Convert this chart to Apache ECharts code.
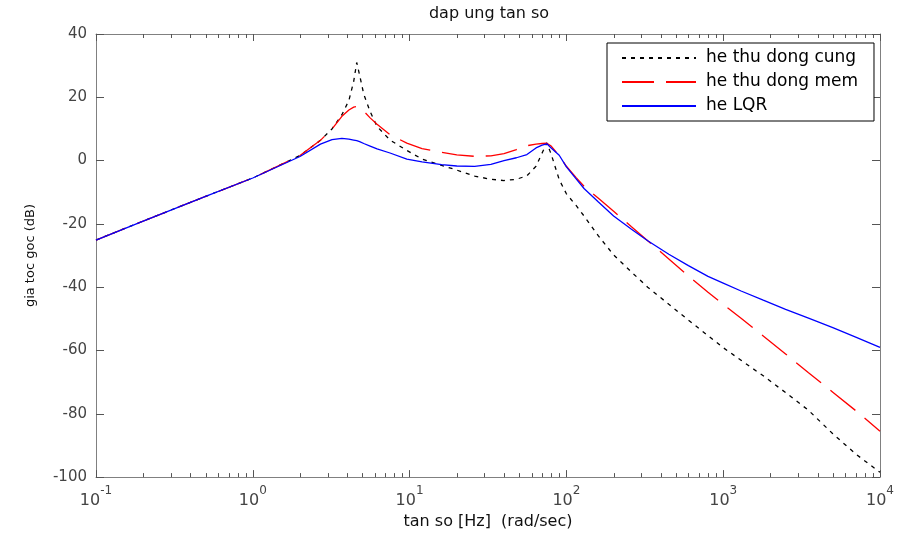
<!DOCTYPE html>
<html>
<head>
<meta charset="utf-8">
<script src="https://cdn.jsdelivr.net/npm/echarts@6/dist/echarts.min.js"></script>
<style>
html,body{margin:0;padding:0;background:#fff;}
#chart{width:897px;height:535px;}
</style>
</head>
<body>
<div id="chart"></div>
<script>
// Frequencies (rad/sec)
var freq = [0.1, 0.2, 0.5, 1, 2, 2.7, 3.2, 3.7, 4.1, 4.4, 4.6, 4.8, 5.1, 5.6, 6.2, 7.5, 9.6, 12, 16, 20, 26, 33, 40, 48, 56, 64, 70, 75, 80, 90, 100, 115, 130, 160, 200, 260, 330, 450, 600, 800, 1000, 1300, 1800, 2500, 3500, 5000, 7000, 10000];
// he thu dong cung (dB)
var cungDb = [-25.1, -19.1, -11.3, -5.5, 1.6, 6.4, 10.0, 14.5, 19.0, 25.0, 31.0, 27.0, 21.0, 15.5, 10.8, 6.5, 3.2, 0.5, -1.5, -3.0, -4.9, -5.9, -6.3, -5.9, -4.8, -1.8, 2.4, 5.6, 2.0, -6.0, -10.5, -14.1, -17.6, -23.8, -29.8, -35.2, -40.0, -45.4, -50.4, -55.3, -59.1, -63.1, -68.0, -73.3, -78.9, -86.3, -92.7, -98.5];
// he thu dong mem (dB)
var memDb = [-25.1, -19.1, -11.3, -5.5, 1.6, 6.4, 10.0, 14.0, 16.0, 16.9, 17.1, 16.8, 15.6, 13.5, 11.5, 8.2, 5.5, 3.8, 2.6, 1.8, 1.35, 1.5, 2.2, 3.5, 4.7, 5.2, 5.4, 5.5, 4.6, 1.5, -1.8, -5.3, -8.2, -11.9, -16.0, -20.9, -25.3, -31.1, -36.5, -41.6, -45.4, -49.8, -55.4, -61.1, -67.0, -73.2, -79.0, -85.5];
// he LQR (dB)
var lqrDb = [-25.1, -19.1, -11.3, -5.5, 1.3, 5.2, 6.6, 7.0, 6.8, 6.5, 6.3, 6.0, 5.4, 4.6, 3.7, 2.4, 0.5, -0.4, -1.3, -1.7, -1.8, -1.2, 0.0, 0.9, 1.9, 4.0, 4.9, 5.3, 4.0, 1.7, -2.0, -5.7, -8.9, -13.1, -17.5, -21.7, -25.3, -29.6, -33.2, -36.6, -38.7, -41.2, -44.1, -47.0, -49.8, -52.8, -55.8, -59.0];

var seriesNames = ['he thu dong cung', 'he thu dong mem', 'he LQR'];
var yTicks = [-100, -80, -60, -40, -20, 0, 20, 40];
var xDecades = [0.1, 1, 10, 100, 1000, 10000];

var minorTicks = [];
for (var d = 0; d < xDecades.length - 1; d++) {
  for (var m = 2; m <= 9; m++) minorTicks.push([xDecades[d] * m, -100]);
}

function pairs(xs, ys) { return xs.map(function (x, i) { return [x, ys[i]]; }); }

var FONT = 'DejaVu Sans';
var AX = '#808080';

var chart = echarts.init(document.getElementById('chart'), null, {renderer: 'canvas'});
chart.setOption({
  animation: false,
  backgroundColor: '#fff',
  title: {
    text: 'dap ung tan so',
    left: 489, top: 6, textAlign: 'center', padding: 0,
    textStyle: {fontFamily: FONT, fontSize: 16, fontWeight: 'normal', color: '#111'}
  },
  grid: {left: 96, right: 15, top: 34, bottom: 56, containLabel: false},
  legend: {
    data: seriesNames,
    orient: 'vertical',
    left: 607, top: 43,
    padding: [6, 16, 6, 14],
    itemWidth: 74, itemHeight: 14, itemGap: 6,
    backgroundColor: '#fff',
    borderColor: '#000', borderWidth: 1,
    itemStyle: {opacity: 0},
    textStyle: {fontFamily: FONT, fontSize: 17, color: '#000', padding: [0, 0, 0, 5], lineHeight: 18}
  },
  xAxis: [{
    type: 'log', logBase: 10, min: xDecades[0], max: xDecades[xDecades.length - 1],
    position: 'bottom',
    name: 'tan so [Hz]  (rad/sec)', nameLocation: 'middle', nameGap: 36,
    nameTextStyle: {fontFamily: FONT, fontSize: 16, color: '#111'},
    axisLine: {onZero: false, lineStyle: {color: AX, width: 1}},
    axisTick: {inside: true, length: 7, lineStyle: {color: '#555'}},
    splitLine: {show: false},
    axisLabel: {
      margin: 8, color: '#444',
      formatter: function (v) {
        var e = Math.round(Math.log10(v));
        return '{b|10}{s|' + e + '}';
      },
      rich: {
        b: {fontFamily: FONT, fontSize: 16, color: '#444', verticalAlign: 'bottom', lineHeight: 24},
        s: {fontFamily: FONT, fontSize: 12, color: '#444', verticalAlign: 'top', lineHeight: 24}
      }
    }
  }, {
    type: 'log', logBase: 10, min: xDecades[0], max: xDecades[xDecades.length - 1],
    position: 'top',
    axisLine: {onZero: false, lineStyle: {color: AX, width: 1}},
    axisTick: {inside: true, length: 7, lineStyle: {color: '#555'}},
    axisLabel: {show: false},
    splitLine: {show: false}
  }],
  yAxis: [{
    type: 'value', min: yTicks[0], max: yTicks[yTicks.length - 1], interval: 20,
    position: 'left',
    name: 'gia toc goc (dB)', nameLocation: 'middle', nameGap: 59,
    nameTextStyle: {fontFamily: FONT, fontSize: 13, color: '#111'},
    axisLine: {show: true, onZero: false, lineStyle: {color: AX, width: 1}},
    axisTick: {show: true, inside: true, length: 8, lineStyle: {color: '#555'}},
    axisLabel: {margin: 9, fontFamily: FONT, fontSize: 15, color: '#444'},
    splitLine: {show: false}
  }, {
    type: 'value', min: yTicks[0], max: yTicks[yTicks.length - 1], interval: 20,
    position: 'right',
    axisLine: {show: true, onZero: false, lineStyle: {color: AX, width: 1}},
    axisTick: {show: true, inside: true, length: 8, lineStyle: {color: '#555'}},
    axisLabel: {show: false},
    splitLine: {show: false}
  }],
  series: [{
    name: seriesNames[0], type: 'line', xAxisIndex: 0, yAxisIndex: 0,
    data: pairs(freq, cungDb), symbol: 'none', smooth: false,
    lineStyle: {color: '#000', width: 1.3, type: [4, 5]},
    itemStyle: {color: '#000'}
  }, {
    name: seriesNames[1], type: 'line', xAxisIndex: 0, yAxisIndex: 0,
    data: pairs(freq, memDb), symbol: 'none', smooth: false,
    lineStyle: {color: '#ff0000', width: 1.3, type: [32, 12]},
    itemStyle: {color: '#ff0000'}
  }, {
    name: seriesNames[2], type: 'line', xAxisIndex: 0, yAxisIndex: 0,
    data: pairs(freq, lqrDb), symbol: 'none', smooth: false,
    lineStyle: {color: '#0000ff', width: 1.3, type: 'solid'},
    itemStyle: {color: '#0000ff'}
  }, {
    name: 'minorTicks', type: 'custom', xAxisIndex: 0, yAxisIndex: 0,
    silent: true, clip: false, z: 5,
    data: minorTicks,
    encode: {x: 0, y: 1},
    renderItem: function (params, api) {
      var f = api.value(0);
      var pb = api.coord([f, yTicks[0]]);
      var pt = api.coord([f, yTicks[yTicks.length - 1]]);
      var x = Math.round(pb[0]) + 0.5;
      return {
        type: 'group',
        children: [
          {type: 'line', shape: {x1: x, y1: pb[1], x2: x, y2: pb[1] - 4}, style: {stroke: '#555', lineWidth: 1}},
          {type: 'line', shape: {x1: x, y1: pt[1], x2: x, y2: pt[1] + 4}, style: {stroke: '#555', lineWidth: 1}}
        ]
      };
    }
  }]
});
</script>
</body>
</html>
